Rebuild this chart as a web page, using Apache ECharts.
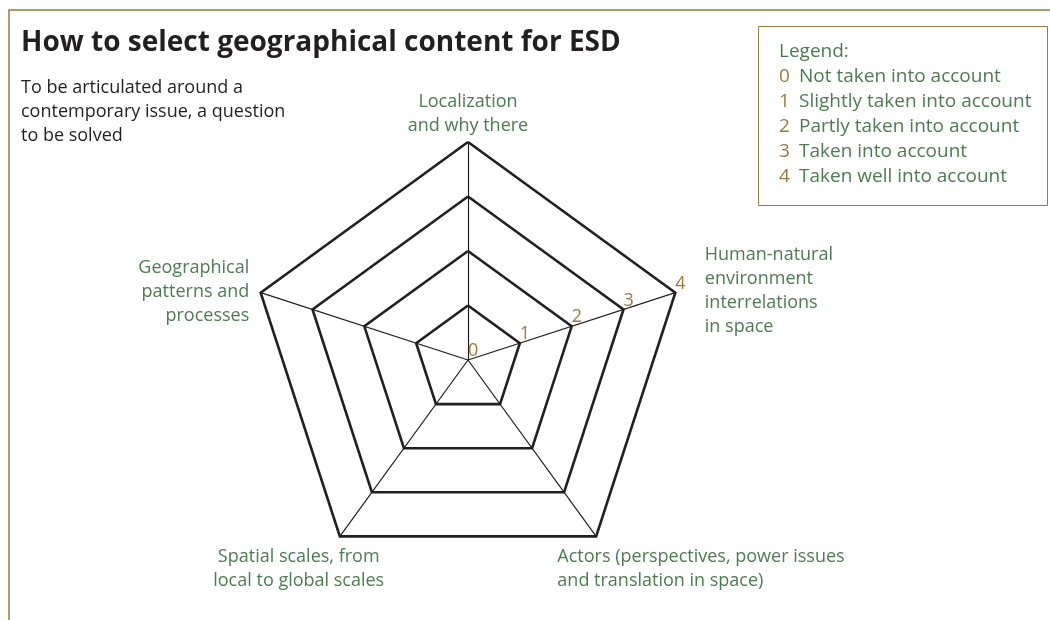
<!DOCTYPE html>
<html>
<head>
<meta charset="utf-8">
<script src="https://cdn.jsdelivr.net/npm/echarts@6/dist/echarts.min.js"></script>
<style>
html, body { margin: 0; padding: 0; background: #fff; }
#main { width: 1050px; height: 620px; }
</style>
</head>
<body>
<div id="main"></div>
<script>
// dimensions, counterclockwise from the top (the way echarts lays out a radar)
const dimensions = [
	"Localization\nand why there",
	"Geographical\npatterns and\nprocesses",
	"Spatial scales, from\nlocal to global scales",
	"Actors (perspectives, power issues\nand translation in space)",
	"Human-natural\nenvironment\ninterrelations\nin space"
];
// scale of the rings
const levelMin = 0;
const levelMax = 4;
// legend
const legendLevels = [0, 1, 2, 3, 4];
const legendTexts = [
	"Not taken into account",
	"Slightly taken into account",
	"Partly taken into account",
	"Taken into account",
	"Taken well into account"
];
const chartTitle = "How to select geographical content for ESD";
const chartSubtitle = "To be articulated around a\ncontemporary issue, a question\nto be solved";

const green = "#4b7d50";
const brown = "#9a7a3a";
const ink = "#231f20";
const font = "Open Sans";

//名称摆放（每个轴）
const axisPlacing = [
	{ nameGap: 4 },
	{ nameGap: 12, nameTextStyle: { verticalAlign: "top", padding: [-33, 0, 0, 0] } },
	{ nameGap: 70, nameTextStyle: { align: "center", verticalAlign: "bottom" } },
	{ nameGap: -66, nameTextStyle: { align: "left", verticalAlign: "top", padding: [62, 0, 0, 0] } },
	{ nameGap: 31, nameTextStyle: { verticalAlign: "top", padding: [-40, 0, 0, 0] }, axisLabel: { show: true } }
];

const indicator = dimensions.map(function(d, i) {
	return Object.assign({ name: d, min: levelMin, max: levelMax }, axisPlacing[i]);
});

//图例文字
let legendText = "Legend:";
for (let i in legendLevels) {
	legendText += "\n{n|" + legendLevels[i] + "}{t|" + legendTexts[i] + "}";
}

const dom = document.getElementById("main");
const myChart = echarts.init(dom, null, { renderer: "canvas" });

const option = {
	backgroundColor: "#fff",
	animation: false,
	title: [{
		text: chartTitle,
		left: 16,
		top: 24,
		textStyle: { fontFamily: font, fontSize: 28, fontWeight: "bold", color: ink },
		subtext: chartSubtitle,
		itemGap: 19,
		subtextStyle: { fontFamily: font, fontSize: 18, color: ink, lineHeight: 24 }
	}, {
		text: legendText,
		left: 758,
		top: 26,
		padding: [13, 16, 17, 21],
		borderColor: brown,
		borderWidth: 1,
		textStyle: {
			fontFamily: font, fontSize: 19, fontWeight: "normal", color: green, lineHeight: 25,
			rich: {
				n: { fontFamily: font, fontSize: 19, color: brown, width: 20, lineHeight: 25 },
				t: { fontFamily: font, fontSize: 19, color: green, lineHeight: 25 }
			}
		}
	}],
	graphic: [{
		type: "polyline",
		shape: { points: [[9, 620], [9, 10], [1050, 10]] },
		style: { stroke: brown, lineWidth: 1.5, fill: null }
	}],
	radar: {
		center: [468, 360],
		radius: 218,
		startAngle: 90,
		splitNumber: levelMax - levelMin,
		shape: "polygon",
		indicator: indicator,
		axisName: { color: green, fontFamily: font, fontSize: 18, lineHeight: 24 },
		splitArea: { show: false },
		splitLine: { lineStyle: { color: ink, width: 2.6 } },
		axisLine: { lineStyle: { color: ink, width: 1.2 } },
		axisTick: { show: false },
		axisLabel: {
			show: false, color: brown, fontFamily: font, fontSize: 18,
			margin: 0, align: "left", verticalAlign: "bottom"
		}
	},
	series: []
};

myChart.setOption(option);
</script>
</body>
</html>
